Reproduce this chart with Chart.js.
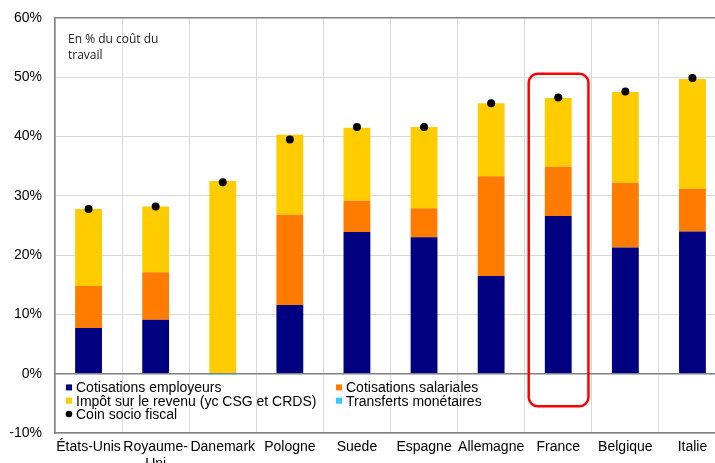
<!DOCTYPE html>
<html>
<head>
<meta charset="utf-8">
<script src="https://cdn.jsdelivr.net/npm/chart.js@4/dist/chart.umd.min.js"></script>
<style>
html,body{margin:0;padding:0;background:#fff;overflow:hidden;}
#wrap{width:730px;height:463px;position:relative;}
</style>
</head>
<body>
<div id="wrap"><canvas id="c" width="730" height="463"></canvas></div>
<script>
// ---- Data ----
const categories = ["États-Unis", ["Royaume-", "Uni"], "Danemark", "Pologne", "Suede", "Espagne", "Allemagne", "France", "Belgique", "Italie"];
const cotisationsEmployeurs = [7.7, 9.1, 0, 11.6, 23.9, 23.0, 16.5, 26.6, 21.3, 24.0];
const cotisationsSalariales = [7.1, 8.0, 0, 15.2, 5.3, 4.9, 16.8, 8.3, 10.9, 7.2];
const impotRevenu = [13.0, 11.1, 32.5, 13.5, 12.3, 13.7, 12.3, 11.6, 15.3, 18.5];
const transfertsMonetaires = [0, 0, -0.2, 0, 0, 0, 0, 0, 0, 0];
const coinSocioFiscal = [27.8, 28.2, 32.3, 39.5, 41.6, 41.6, 45.6, 46.6, 47.6, 49.9];
const yTicks = [-10, 0, 10, 20, 30, 40, 50, 60];
const noteLines = ["En % du coût du", "travail"];
const highlightCategory = "France";

const FONT = "'Liberation Sans', Arial, sans-serif";
Chart.defaults.font.family = FONT;
Chart.defaults.font.size = 14;
Chart.defaults.color = '#000';

const axisDark = '#808080';
const gridLight = '#d9d9d9';

const overlay = {
  id: 'overlay',
  afterDatasetsDraw(chart) {
    const ctx = chart.ctx;
    const x = chart.scales.x, y = chart.scales.y;
    const ca = chart.chartArea;
    const top = y.getPixelForValue(60);
    // note
    ctx.save();
    ctx.fillStyle = '#222';
    ctx.font = "12px 'Open Sans', sans-serif";
    ctx.textBaseline = 'alphabetic';
    ctx.textAlign = 'left';
    noteLines.forEach((t, i) => ctx.fillText(t, ca.left + 13, top + 25 + i * 16));
    // highlight
    const idx = categories.indexOf(highlightCategory);
    const cw = x.getPixelForValue(1) - x.getPixelForValue(0);
    const cx = x.getPixelForValue(idx);
    const l = cx - cw * 0.44, r = cx + cw * 0.45;
    const t = y.getPixelForValue(50.6), b = y.getPixelForValue(-5.5);
    ctx.strokeStyle = '#ff0000';
    ctx.lineWidth = 2.5;
    ctx.beginPath();
    ctx.roundRect(l, t, r - l, b - t, 9);
    ctx.stroke();
    // legend
    const ds = chart.data.datasets;
    const items = [
      {d: ds[0], col: 0, row: 0}, {d: ds[1], col: 1, row: 0},
      {d: ds[2], col: 0, row: 1}, {d: ds[3], col: 1, row: 1},
      {d: ds[4], col: 0, row: 2}
    ];
    ctx.font = '14px ' + FONT;
    ctx.fillStyle = '#000';
    const z = y.getPixelForValue(0);
    items.forEach(it => {
      const tx = ca.left + 21 + it.col * 270;
      const base = z + 18.7 + it.row * 13.3;
      const my = base - 5;
      if (it.d.type === 'line') {
        ctx.fillStyle = '#000';
        ctx.beginPath();
        ctx.arc(tx - 7, my, 3.3, 0, Math.PI * 2);
        ctx.fill();
      } else {
        ctx.fillStyle = it.d.backgroundColor;
        ctx.fillRect(tx - 10, my - 3, 6, 6);
      }
      ctx.fillStyle = '#000';
      ctx.fillText(it.d.label, tx, base);
    });
    ctx.restore();
  }
};

new Chart(document.getElementById('c'), {
  data: {
    labels: categories,
    datasets: [
      {type: 'bar', label: 'Cotisations employeurs', data: cotisationsEmployeurs, backgroundColor: '#000080', stack: 's', order: 1},
      {type: 'bar', label: 'Cotisations salariales', data: cotisationsSalariales, backgroundColor: '#ff7c00', stack: 's', order: 1},
      {type: 'bar', label: 'Impôt sur le revenu (yc CSG et CRDS)', data: impotRevenu, backgroundColor: '#ffcc00', stack: 's', order: 1},
      {type: 'bar', label: 'Transferts monétaires', data: transfertsMonetaires, backgroundColor: '#33ccff', stack: 's', order: 1},
      {type: 'line', label: 'Coin socio fiscal', data: coinSocioFiscal, showLine: false, pointRadius: 4, pointBackgroundColor: '#000', pointBorderColor: '#000', pointBorderWidth: 0, stack: 'coin', order: 0}
    ]
  },
  options: {
    responsive: false,
    animation: false,
    devicePixelRatio: 1,
    layout: {padding: {top: 18, right: 1, left: 0, bottom: 0}},
    datasets: {bar: {barPercentage: 0.5, categoryPercentage: 0.8}},
    plugins: {legend: {display: false}, tooltip: {enabled: false}},
    scales: {
      x: {
        stacked: true,
        grid: {color: gridLight, lineWidth: 1, drawTicks: false, offset: true},
        border: {color: axisDark, width: 1.5},
        ticks: {padding: 6, maxRotation: 0, autoSkip: false, font: {size: 14}},
        afterFit(s) { s.height = 30; }
      },
      y: {
        stacked: true,
        min: -10, max: 60,
        afterBuildTicks(s) { s.ticks = yTicks.map(v => ({value: v})); },
        grid: {
          drawTicks: false,
          color: c => (c.tick && (c.tick.value === 0 || c.tick.value === 60)) ? axisDark : gridLight,
          lineWidth: c => (c.tick && (c.tick.value === 0 || c.tick.value === 60)) ? 1.5 : 1
        },
        border: {color: axisDark, width: 1.5},
        ticks: {padding: 13, callback: v => v + '%', font: {size: 14}},
        afterFit(s) { s.width = 55; s.paddingTop = 0; s.paddingBottom = 0; }
      }
    }
  },
  plugins: [overlay]
});
</script>
</body>
</html>
